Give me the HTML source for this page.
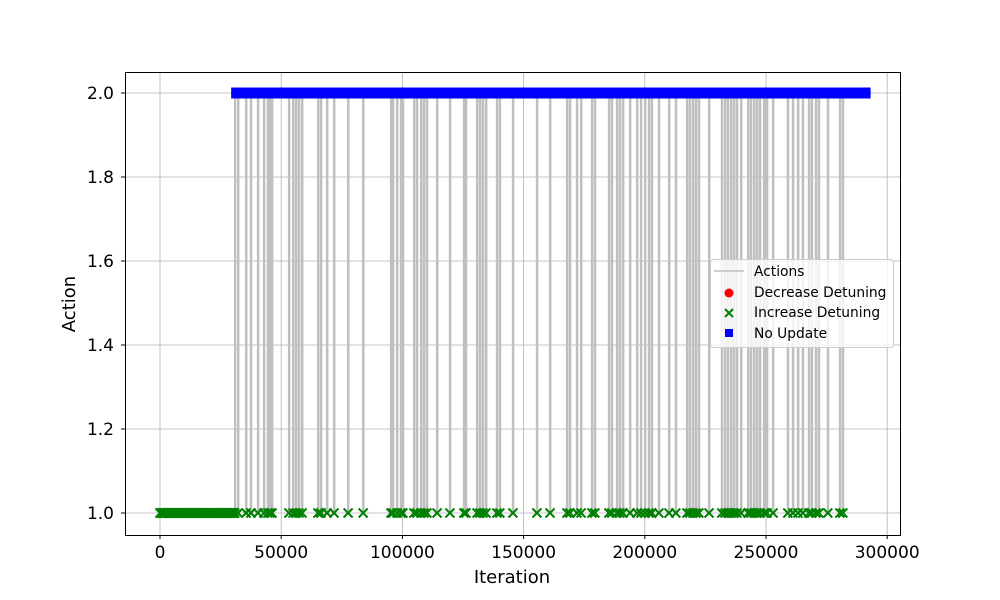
<!DOCTYPE html>
<html><head><meta charset="utf-8"><style>
html,body{margin:0;padding:0;background:#fff}
svg{display:block;font-family:"DejaVu Sans","Liberation Sans",sans-serif}
</style></head><body>
<svg id="chart" width="1000" height="600" viewBox="0 0 1000 600">
<rect x="0" y="0" width="1000" height="600" fill="#fff"/>
<g id="grid"></g>
<g id="series"></g>
<rect x="125.5" y="72.5" width="775" height="463" fill="none" stroke="#000" stroke-width="1"/>
<g id="axes"></g>
<text x="512" y="583" font-size="18" text-anchor="middle">Iteration</text>
<text x="0" y="0" font-size="18" text-anchor="middle" transform="translate(75,304) rotate(-90)">Action</text>
<g>
<rect x="710.5" y="259.5" width="183" height="88" rx="3" fill="#fff" fill-opacity="0.8" stroke="#ccc"/>
<g><line x1="714" y1="271" x2="744" y2="271" stroke="#bfbfbf" stroke-width="1.5"/><text x="754" y="276" font-size="13.8">Actions</text></g>
<g><circle cx="729" cy="293" r="4.5" fill="red"/><text x="754" y="297" font-size="13.8">Decrease Detuning</text></g>
<g><path d="M725,309 L733,317 M733,309 L725,317" stroke="green" stroke-width="2"/><text x="754" y="317" font-size="13.8">Increase Detuning</text></g>
<g><rect x="725" y="329" width="8" height="8" fill="blue"/><text x="754" y="338" font-size="13.8">No Update</text></g>
</g>
</svg>
<script>
const xTicks=[0,50000,100000,150000,200000,250000,300000];
const yTicks=[1.0,1.2,1.4,1.6,1.8,2.0];
const initialPhaseEnd=31000;
const lastIteration=291500;
const spikeIters=[32200,35500,37500,40400,42900,44500,45400,46200,53200,54900,56100,57300,58600,65200,66400,68900,71800,77600,83800,95300,96100,97800,99400,100200,104800,106000,107700,108900,110100,114300,119600,125400,126200,130800,132000,133200,134500,139000,140200,145600,155500,160900,167900,169100,172000,173700,178200,179400,185200,186400,188500,189700,191000,193900,196800,198400,200100,201700,202900,205800,210000,212800,217400,218600,219900,221100,222300,226500,231800,233100,234300,235600,236800,238000,239700,242600,243800,245100,246300,247500,249200,250400,252900,259000,261100,263200,265200,267700,268900,270600,271800,275500,280500,281700];
const NS="http://www.w3.org/2000/svg";
const X=v=>160+(v/50000)*121.2;
const Y=v=>513-(v-1)*420;
function mk(tag,attrs,parent){const e=document.createElementNS(NS,tag);for(const k in attrs)e.setAttribute(k,attrs[k]);parent.appendChild(e);return e;}
const grid=document.getElementById('grid'),axes=document.getElementById('axes'),series=document.getElementById('series');
xTicks.forEach(t=>{const x=X(t);
 const g=mk('line',{x1:x,y1:72,x2:x,y2:535,stroke:'#b0b0b0','stroke-width':0.8},grid);
 
 mk('line',{x1:x,y1:535,x2:x,y2:539,stroke:'#000'},axes);
 const tx=mk('text',{x:x,y:558,'font-size':17,'text-anchor':'middle'},axes);tx.textContent=String(t);
 });
yTicks.forEach(t=>{const y=Y(t);
 const g=mk('line',{x1:125,y1:y,x2:900,y2:y,stroke:'#b0b0b0','stroke-width':0.8},grid);
 
 mk('line',{x1:121,y1:y,x2:125,y2:y,stroke:'#000'},axes);
 const tx=mk('text',{x:114,y:y+6,'font-size':17,'text-anchor':'end'},axes);tx.textContent=t.toFixed(1);
 });
let d=`M${X(0)},${Y(1)} L${X(initialPhaseEnd)},${Y(1)} L${X(initialPhaseEnd)},${Y(2)}`;
spikeIters.forEach(s=>{d+=` L${X(s)},${Y(2)} L${X(s)},${Y(1)} L${X(s)+0.3},${Y(1)} L${X(s)+0.3},${Y(2)}`;});
d+=` L${X(lastIteration)},${Y(2)}`;
const ln=mk('path',{d:d,fill:'none',stroke:'#bfbfbf','stroke-width':2.2},series);

function xMark(it){const x=X(it),y=Y(1);
 const p=mk('path',{d:`M${x-4.5},${y-4.5} L${x+4.5},${y+4.5} M${x+4.5},${y-4.5} L${x-4.5},${y+4.5}`,stroke:'green','stroke-width':2},series);
 }
for(let it=0;it<=initialPhaseEnd;it+=400)xMark(it);
spikeIters.forEach(xMark);
const bl=mk('rect',{x:X(initialPhaseEnd)-4,y:Y(2)-5.5,width:X(lastIteration)-X(initialPhaseEnd)+8,height:11,fill:'blue'},series);

</script>
</body></html>
